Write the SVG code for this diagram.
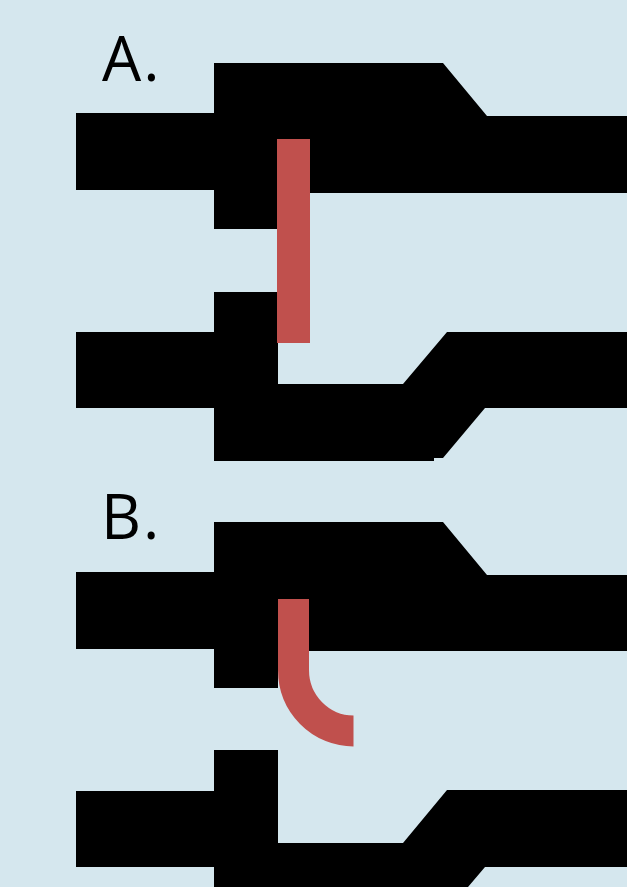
<svg xmlns="http://www.w3.org/2000/svg" width="627" height="887" viewBox="0 0 627 887">
  <style>
    .trace { fill: #000000; }
    .stub { fill: #C0504D; }
    .hook { fill: none; stroke: #C0504D; stroke-width: 31; stroke-linecap: butt; }
    .label { font-family: "Open Sans", "Liberation Sans", sans-serif; font-size: 62px; letter-spacing: 2px; fill: #000000; }
  </style>
  <rect width="627" height="887" fill="#D5E7EE"/>

  <!-- Panel A: straight stub -->
  <g id="panel-a">
    <text class="label" x="102" y="81">A.</text>
    <g id="a-upper-trace">
      <polygon class="trace" points="76,113 214,113 214,63 443,63 487,116 627,116 627,193 277,193 277,229 214,229 214,190 76,190"/>
    </g>
    <g id="a-lower-trace">
      <polygon class="trace" points="76,332 214,332 214,292 278,292 278,384 403,384 447,332 627,332 627,408 485,408 443,458 434,458 434,461 214,461 214,408 76,408"/>
    </g>
    <g id="a-stub">
      <rect class="stub" x="277" y="139" width="33" height="204"/>
    </g>
  </g>

  <!-- Panel B: curved stub -->
  <g id="panel-b">
    <text class="label" x="101" y="539">B.</text>
    <g id="b-upper-trace">
      <polygon class="trace" points="76,572 214,572 214,522 443,522 487,575 627,575 627,651 278,651 278,688 214,688 214,649 76,649"/>
    </g>
    <g id="b-lower-trace">
      <polygon class="trace" points="76,791 214,791 214,750 278,750 278,843 403,843 447,790 627,790 627,867 485,867 468,887 214,887 214,867 76,867"/>
    </g>
    <g id="b-stub">
      <path class="hook" d="M293.5,599 V670 A60,61 0 0 0 353.5,731"/>
    </g>
  </g>
</svg>
